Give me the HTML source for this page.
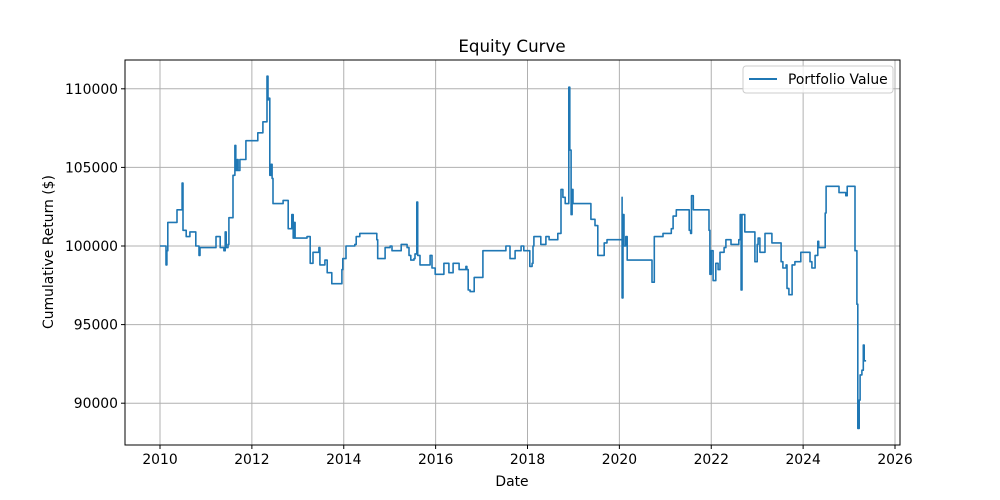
<!DOCTYPE html>
<html><head><meta charset="utf-8"><style>
html,body{margin:0;padding:0;background:#fff;}
svg{display:block;font-family:"DejaVu Sans","Liberation Sans",sans-serif;}
</style></head><body>
<svg id="chart" width="1000" height="500" viewBox="0 0 1000 500" xmlns="http://www.w3.org/2000/svg">
<rect width="1000" height="500" fill="#fff"/>
<g id="grid"></g>
<g id="series"></g>
<rect x="125" y="60" width="775" height="385" fill="none" stroke="#000" stroke-width="1"/>
<g id="ticks"></g>
<text x="512" y="52" font-size="16.7" text-anchor="middle">Equity Curve</text>
<text x="512" y="486" font-size="13.9" text-anchor="middle">Date</text>
<text transform="translate(53,252) rotate(-90)" font-size="13.9" text-anchor="middle">Cumulative Return ($)</text>
<g>
<rect x="743" y="66" width="150" height="27" rx="3" fill="#fff" fill-opacity="0.8" stroke="#ccc"/>
<line x1="749" y1="79" x2="777" y2="79" stroke="#1f77b4" stroke-width="2"/>
<text x="788" y="84" font-size="13.9">Portfolio Value</text>
</g>
</svg>
<script>
const xTicks=[2010,2012,2014,2016,2018,2020,2022,2024,2026];
const yTicks=[90000,95000,100000,105000,110000];
const dates=[2010.00,2010.13,2010.13,2010.15,2010.17,2010.37,2010.37,2010.48,2010.48,2010.50,2010.54,2010.57,2010.65,2010.65,2010.78,2010.78,2010.85,2010.85,2010.87,2011.22,2011.22,2011.31,2011.31,2011.39,2011.42,2011.44,2011.48,2011.50,2011.57,2011.59,2011.63,2011.65,2011.68,2011.70,2011.74,2011.87,2011.87,2012.13,2012.13,2012.24,2012.24,2012.29,2012.33,2012.35,2012.37,2012.39,2012.42,2012.44,2012.46,2012.68,2012.68,2012.76,2012.79,2012.85,2012.87,2012.90,2012.92,2012.94,2013.20,2013.27,2013.27,2013.33,2013.33,2013.46,2013.48,2013.57,2013.59,2013.64,2013.72,2013.74,2013.96,2013.96,2013.98,2014.05,2014.24,2014.27,2014.35,2014.64,2014.72,2014.74,2014.85,2014.90,2015.01,2015.05,2015.20,2015.25,2015.38,2015.42,2015.46,2015.53,2015.55,2015.59,2015.61,2015.66,2015.83,2015.88,2015.92,2015.96,2015.99,2016.12,2016.18,2016.29,2016.29,2016.36,2016.38,2016.44,2016.51,2016.66,2016.68,2016.71,2016.75,2016.84,2017.01,2017.03,2017.51,2017.53,2017.62,2017.73,2017.86,2017.92,2018.03,2018.05,2018.10,2018.12,2018.14,2018.27,2018.29,2018.38,2018.40,2018.47,2018.66,2018.71,2018.73,2018.77,2018.82,2018.90,2018.90,2018.92,2018.95,2018.97,2018.99,2019.36,2019.38,2019.47,2019.53,2019.64,2019.67,2019.73,2020.01,2020.06,2020.06,2020.08,2020.10,2020.14,2020.17,2020.67,2020.71,2020.76,2020.76,2020.95,2021.11,2021.13,2021.17,2021.24,2021.50,2021.52,2021.55,2021.57,2021.61,2021.91,2021.95,2021.97,2022.00,2022.04,2022.10,2022.15,2022.19,2022.28,2022.32,2022.43,2022.60,2022.63,2022.65,2022.67,2022.73,2022.87,2022.95,2023.00,2023.02,2023.06,2023.15,2023.17,2023.32,2023.43,2023.52,2023.56,2023.63,2023.65,2023.69,2023.76,2023.82,2023.95,2023.95,2024.13,2024.15,2024.19,2024.26,2024.32,2024.34,2024.45,2024.48,2024.50,2024.50,2024.78,2024.78,2024.91,2024.93,2024.96,2025.11,2025.13,2025.17,2025.19,2025.22,2025.24,2025.28,2025.31,2025.33,2025.37];
const values=[100000,100000,98800,99700,101500,101500,102300,102300,104000,101000,101000,100600,100600,100900,100900,100000,100000,99400,99900,99900,100600,100600,99900,99700,100900,99900,100100,101800,101800,104500,106400,104800,105500,104800,105500,105500,106700,106700,107200,107200,107900,107900,110800,109300,109400,104500,105200,104300,102700,102700,102900,102900,101100,101100,102000,100500,101500,100500,100600,100600,98900,98900,99600,99900,98800,98800,99100,98300,98300,97600,97600,98500,99200,100000,100100,100600,100800,100800,100400,99200,99200,99900,100000,99700,99700,100100,99900,99400,99100,99200,99500,102800,99400,98800,98800,99400,98600,98600,98200,98200,98900,98900,98300,98300,98900,98900,98500,98700,98500,97200,97100,98000,98000,99700,99700,100000,99200,99700,100000,99700,99700,98700,98900,100000,100600,100600,100100,100100,100600,100400,100800,100800,103600,103100,102700,102700,110100,106100,102000,103600,102700,102700,101700,101300,99400,99400,100200,100400,100400,103100,96700,102000,100000,100600,99100,99100,97700,98500,100600,100800,100800,101100,101900,102300,102300,101000,100800,103200,102300,102300,101000,98200,99700,97800,98900,98500,99600,99900,100400,100100,100400,102000,97200,102000,100900,100900,99000,100100,100500,99600,99600,100800,100200,100200,99000,98600,98800,97300,96900,98800,99000,99000,99600,99600,99000,98600,99400,100300,99900,99900,102100,103100,103800,103800,103400,103400,103200,103800,103800,99700,96300,88400,90200,91800,92100,93700,92700,92700];
const L=125,R=900,T=60,B=445;
const xS=v=>160+(v-2010)*(895-160)/16;
const yS=v=>246-(v-100000)*78.6/5000;
const NS='http://www.w3.org/2000/svg';
const grid=document.getElementById('grid'),ticks=document.getElementById('ticks'),ser=document.getElementById('series');
function mk(tag,attrs,parent){const e=document.createElementNS(NS,tag);for(const k in attrs)e.setAttribute(k,attrs[k]);parent.appendChild(e);return e;}
xTicks.forEach(t=>{const x=xS(t);
 if(x>L&&x<R){const g=mk('line',{x1:x,y1:T,x2:x,y2:B,stroke:'#b0b0b0','stroke-width':1},grid);
 
 }
 const tk=mk('line',{x1:x,y1:B,x2:x,y2:B+4,stroke:'#000'},ticks);
 
 
 const tx=mk('text',{x:x,y:B+19,'font-size':13.9,'text-anchor':'middle'},ticks);tx.textContent=t;
 
 });
yTicks.forEach(t=>{const y=yS(t);
 const g=mk('line',{x1:L,y1:y,x2:R,y2:y,stroke:'#b0b0b0','stroke-width':1},grid);
 
 
 const tk=mk('line',{x1:L-4,y1:y,x2:L,y2:y,stroke:'#000'},ticks);
 
 
 const tx=mk('text',{x:L-7,y:y+5,'font-size':13.9,'text-anchor':'end'},ticks);tx.textContent=t;
 
 });
let pts=[];
dates.forEach((d,i)=>{const x=xS(d).toFixed(1),y=yS(values[i]).toFixed(1);
 if(i>0)pts.push(x+','+yS(values[i-1]).toFixed(1));
 pts.push(x+','+y);});
const pl=mk('polyline',{points:pts.join(' '),fill:'none',stroke:'#1f77b4','stroke-width':1.6,'stroke-linejoin':'round'},ser);


</script>
</body></html>
